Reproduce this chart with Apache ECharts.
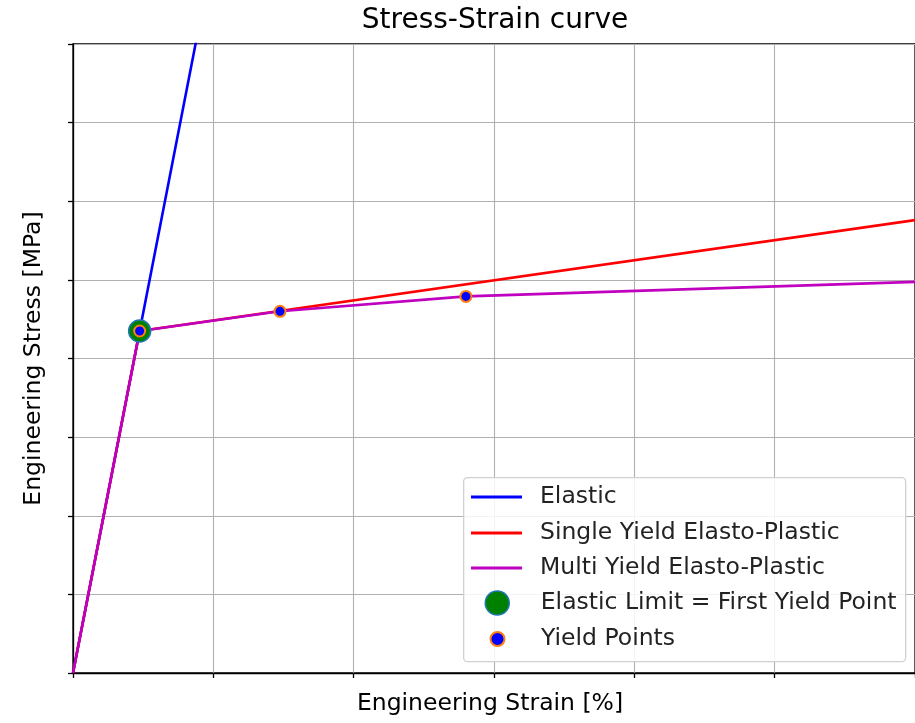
<!DOCTYPE html>
<html>
<head>
<meta charset="utf-8">
<script src="https://cdn.jsdelivr.net/npm/echarts@6/dist/echarts.min.js"></script>
<style>html,body{margin:0;padding:0;background:#fff;}#c{width:915px;height:723px;}</style>
</head>
<body>
<div id="c"></div>
<script>
// ---- data (strain, stress in axis units) ----
const elastic = [[0, 0], [0.475, 4.35], [1.0, 9.16]];
const singleYield = [[0, 0], [0.475, 4.35], [6.0, 5.76]];
const multiYield = [[0, 0], [0.475, 4.35], [1.475, 4.6], [2.8, 4.79], [6.0, 4.975]];
const elasticLimit = [[0.475, 4.35]];
const yieldPoints = [[0.475, 4.35], [1.475, 4.6], [2.8, 4.79]];
const xTicks = [0, 1, 2, 3, 4, 5, 6];
const yTicks = [0, 1, 2, 3, 4, 5, 6, 7, 8];
const names = ['Elastic', 'Single Yield Elasto-Plastic', 'Multi Yield Elasto-Plastic',
  'Elastic Limit = First Yield Point', 'Yield Points'];

const FONT = 'DejaVu Sans';
const chart = echarts.init(document.getElementById('c'), null, {renderer: 'canvas'});

const lineColors = ['#0000ff', '#ff0000', '#bf00bf'];
const rowCenters = [495, 531, 566, 601, 637];
const legendIconH = [3, 3, 3, 24, 14];
const legendLeft = [471, 471, 471, 484.5, 489.5];
const legends = names.map((n, i) => ({
  data: [n],
  left: legendLeft[i],
  top: rowCenters[i] - 12,
  orient: 'vertical',
  itemWidth: 51,
  itemHeight: legendIconH[i],
  icon: i < 3 ? 'rect' : 'circle',
  padding: 0,
  selectedMode: false,
  textStyle: {fontFamily: FONT, fontSize: 23.5, color: '#222', lineHeight: 28, padding: [0, 0, 0, 13]},
  itemStyle: i < 3 ? {color: lineColors[i], borderWidth: 0} : {borderWidth: i === 3 ? 1.5 : 2},
  z: 10
}));

chart.setOption({
  animation: false,
  backgroundColor: '#fff',
  title: {
    text: 'Stress-Strain curve', left: 490, top: 2, textAlign: 'center',
    textStyle: {fontFamily: FONT, fontSize: 28, fontWeight: 'normal', color: '#000'}
  },
  grid: {left: 73, top: 44, width: 846, height: 629, show: true, borderColor: '#000', borderWidth: 1.3, backgroundColor: 'transparent'},
  legend: legends,
  graphic: [{
    type: 'rect', left: 463, top: 477, z: 9,
    shape: {width: 442, height: 184, r: 4},
    style: {fill: 'rgba(255,255,255,0.85)', stroke: '#d0d0d0', lineWidth: 1.3}
  }],
  xAxis: {
    type: 'value', min: xTicks[0], max: xTicks[xTicks.length - 1], interval: 1,
    name: 'Engineering Strain [%]', nameLocation: 'middle', nameGap: 19,
    nameTextStyle: {fontFamily: FONT, fontSize: 23.5, color: '#000', padding: [0, 8, 0, 0]},
    axisLine: {show: true, lineStyle: {color: '#000', width: 1.3}},
    axisTick: {show: true, length: 5, lineStyle: {color: '#000', width: 1.3}},
    axisLabel: {show: false},
    splitLine: {show: true, lineStyle: {color: '#b0b0b0', width: 1.1}}
  },
  yAxis: {
    type: 'value', min: yTicks[0], max: yTicks[yTicks.length - 1], interval: 1,
    name: 'Engineering Stress [MPa]', nameLocation: 'middle', nameGap: 27,
    nameTextStyle: {fontFamily: FONT, fontSize: 23.5, color: '#000'},
    axisLine: {show: true, lineStyle: {color: '#000', width: 1.3}},
    axisTick: {show: true, length: 5, lineStyle: {color: '#000', width: 1.3}},
    axisLabel: {show: false},
    splitLine: {show: true, lineStyle: {color: '#b0b0b0', width: 1.1}}
  },
  series: [
    {name: names[0], type: 'line', data: elastic, symbol: 'none', clip: true,
      lineStyle: {color: lineColors[0], width: 2.6}, itemStyle: {color: lineColors[0]}, z: 2},
    {name: names[1], type: 'line', data: singleYield, symbol: 'none', clip: true,
      lineStyle: {color: lineColors[1], width: 2.6}, itemStyle: {color: lineColors[1]}, z: 3},
    {name: names[2], type: 'line', data: multiYield, symbol: 'none', clip: true,
      lineStyle: {color: lineColors[2], width: 2.6}, itemStyle: {color: lineColors[2]}, z: 4},
    {name: names[3], type: 'scatter', data: elasticLimit, symbol: 'circle', symbolSize: 22,
      itemStyle: {color: '#008000', borderColor: '#1f77b4', borderWidth: 1.5, opacity: 1}, z: 5},
    {name: names[4], type: 'scatter', data: yieldPoints, symbol: 'circle', symbolSize: 11,
      itemStyle: {color: '#0000ff', borderColor: '#ff7f0e', borderWidth: 2, opacity: 1}, z: 6}
  ]
});
</script>
</body>
</html>
